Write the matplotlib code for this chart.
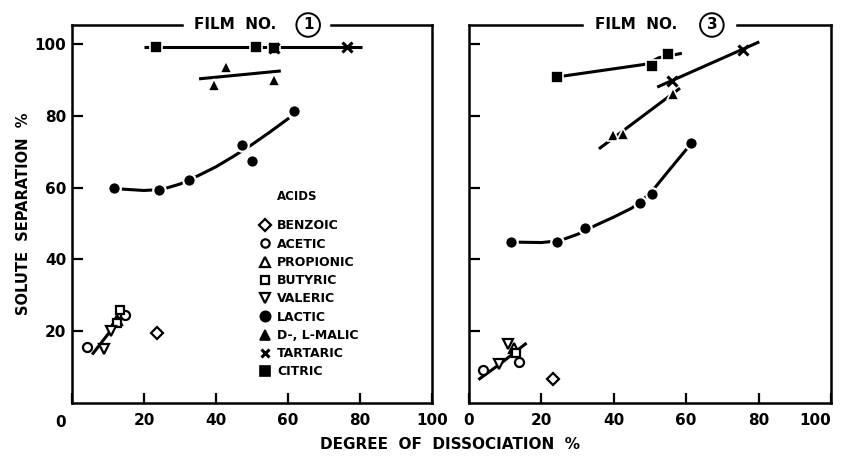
import matplotlib
matplotlib.use("Agg")
import matplotlib.pyplot as plt
from matplotlib.lines import Line2D

plt.rcParams['font.family'] = ['DejaVu Sans']
plt.rcParams['font.weight'] = 'bold'

# ---------------- data: film no. 1 ----------------
f1_benzoic_x = [23.7]
f1_benzoic_y = [19.6]
f1_acetic_x = [4.3, 14.7]
f1_acetic_y = [15.7, 24.4]
f1_propionic_x = [12.6]
f1_propionic_y = [23.1]
f1_butyric_x = [12.6, 13.3]
f1_butyric_y = [22.4, 25.9]
f1_valeric_x = [8.9, 10.7]
f1_valeric_y = [15.0, 20.1]
f1_lactic_x = [11.7, 24.2, 32.5, 47.3, 49.9, 61.7]
f1_lactic_y = [59.9, 59.4, 62.2, 71.8, 67.3, 81.4]
f1_malic_x = [39.4, 42.7, 56.1]
f1_malic_y = [88.6, 93.7, 90.0]
f1_tartaric_x = [56.1, 76.5]
f1_tartaric_y = [99.0, 99.3]
f1_citric_x = [23.2, 51.0, 56.1]
f1_citric_y = [99.3, 99.3, 99.0]

# fitted curves, film no. 1
f1_small_fit_x = [5.6, 14.5]
f1_small_fit_y = [13.5, 25.0]
f1_lactic_fit_x = [13.7, 20, 25, 30, 35, 40, 45, 50, 55, 60.3]
f1_lactic_fit_y = [59.6, 59.2, 59.5, 61.0, 63.3, 65.8, 68.8, 72.0, 75.5, 79.4]
f1_malic_fit_x = [35.3, 58.0]
f1_malic_fit_y = [90.3, 92.5]
f1_top_fit_x = [20.0, 80.6]
f1_top_fit_y = [99.3, 99.3]

# ---------------- data: film no. 3 ----------------
f3_benzoic_x = [23.3]
f3_benzoic_y = [6.7]
f3_acetic_x = [4.0, 13.9]
f3_acetic_y = [9.3, 11.5]
f3_propionic_x = [12.3]
f3_propionic_y = [15.2]
f3_butyric_x = [13.0]
f3_butyric_y = [13.9]
f3_valeric_x = [8.4, 10.9]
f3_valeric_y = [10.8, 16.4]
f3_lactic_x = [11.6, 24.2, 32.0, 47.2, 50.5, 61.3]
f3_lactic_y = [44.8, 44.8, 48.8, 55.6, 58.2, 72.4]
f3_malic_x = [39.9, 42.5, 56.3]
f3_malic_y = [74.7, 75.0, 86.0]
f3_tartaric_x = [56.0, 75.8]
f3_tartaric_y = [89.8, 98.3]
f3_citric_x = [24.2, 50.5, 55.1]
f3_citric_y = [90.9, 93.9, 97.2]

# fitted curves, film no. 3
f3_small_fit_x = [2.6, 9.0, 15.9]
f3_small_fit_y = [6.5, 11.2, 16.7]
f3_lactic_fit_x = [13.5, 20, 25, 30, 35, 40, 45, 50, 55, 60.5]
f3_lactic_fit_y = [44.8, 44.7, 45.2, 47.0, 49.5, 51.8, 54.3, 58.3, 64.5, 71.2]
f3_malic_fit_x = [35.9, 58.3]
f3_malic_fit_y = [70.8, 87.7]
f3_tartaric_fit_x = [52.0, 80.2]
f3_tartaric_fit_y = [88.0, 100.6]
f3_citric_fit_x = [25.5, 49.0, 52.5, 58.8]
f3_citric_fit_y = [91.0, 94.4, 96.2, 97.4]

acid_names = ['BENZOIC', 'ACETIC', 'PROPIONIC', 'BUTYRIC', 'VALERIC',
              'LACTIC', 'D-, L-MALIC', 'TARTARIC', 'CITRIC']
x_ticks = [0, 20, 40, 60, 80, 100]
y_ticks = [20, 40, 60, 80, 100]

# ---------------- styles ----------------
K = 'black'
STYLE = {
    'benzoic':   dict(marker='D', ms=6.0, mfc='white', mec=K, mew=1.6),
    'acetic':    dict(marker='o', ms=6.5, mfc='white', mec=K, mew=1.6),
    'propionic': dict(marker='^', ms=6.5, mfc='white', mec=K, mew=1.6),
    'butyric':   dict(marker='s', ms=6.0, mfc='white', mec=K, mew=1.6),
    'valeric':   dict(marker='v', ms=6.5, mfc='white', mec=K, mew=1.6),
    'lactic':    dict(marker='o', ms=9.0, mfc=K, mec='white', mew=1.6),
    'malic':     dict(marker='^', ms=9.0, mfc=K, mec='white', mew=1.2),
    'tartaric':  dict(marker='x', ms=7.5, mfc=K, mec=K, mew=2.2),
    'citric':    dict(marker='s', ms=8.0, mfc=K, mec='white', mew=1.2),
}
# marker sizes used in the key
LEGEND_MS = {'benzoic': 6.0, 'acetic': 6.0, 'propionic': 6.5, 'butyric': 6.0,
             'valeric': 6.5, 'lactic': 7.0, 'malic': 7.0, 'tartaric': 6.0,
             'citric': 7.5}
FIT = dict(color=K, lw=2.2, solid_capstyle='butt', zorder=2)

fig = plt.figure(figsize=(8.42, 4.62), dpi=100)
ax1 = fig.add_axes([0.0855, 0.1277, 0.4276, 0.8182])
ax3 = fig.add_axes([0.5570, 0.1277, 0.4299, 0.8182])


def draw(ax, groups, fits):
    for fx, fy in fits:
        ax.plot(fx, fy, **FIT)
    for key, (xs, ys) in groups.items():
        ax.plot(xs, ys, linestyle='none', zorder=3, **STYLE[key])


draw(ax1,
     {'benzoic': (f1_benzoic_x, f1_benzoic_y), 'acetic': (f1_acetic_x, f1_acetic_y),
      'propionic': (f1_propionic_x, f1_propionic_y), 'butyric': (f1_butyric_x, f1_butyric_y),
      'valeric': (f1_valeric_x, f1_valeric_y), 'lactic': (f1_lactic_x, f1_lactic_y),
      'malic': (f1_malic_x, f1_malic_y), 'citric': (f1_citric_x, f1_citric_y),
      'tartaric': (f1_tartaric_x, f1_tartaric_y)},
     [(f1_small_fit_x, f1_small_fit_y), (f1_lactic_fit_x, f1_lactic_fit_y),
      (f1_malic_fit_x, f1_malic_fit_y), (f1_top_fit_x, f1_top_fit_y)])

draw(ax3,
     {'benzoic': (f3_benzoic_x, f3_benzoic_y), 'acetic': (f3_acetic_x, f3_acetic_y),
      'propionic': (f3_propionic_x, f3_propionic_y), 'butyric': (f3_butyric_x, f3_butyric_y),
      'valeric': (f3_valeric_x, f3_valeric_y), 'lactic': (f3_lactic_x, f3_lactic_y),
      'malic': (f3_malic_x, f3_malic_y), 'citric': (f3_citric_x, f3_citric_y),
      'tartaric': (f3_tartaric_x, f3_tartaric_y)},
     [(f3_small_fit_x, f3_small_fit_y), (f3_lactic_fit_x, f3_lactic_fit_y),
      (f3_malic_fit_x, f3_malic_fit_y), (f3_tartaric_fit_x, f3_tartaric_fit_y),
      (f3_citric_fit_x, f3_citric_fit_y)])

for ax, gap, title_x, circ_x, num in [(ax1, (0.306, 0.719), 0.454, 0.656, '1'),
                                      (ax3, (0.312, 0.740), 0.463, 0.671, '3')]:
    ax.set_xlim(0, 100)
    ax.set_ylim(0, 105.3)
    ax.set_xticks(x_ticks)
    ax.set_yticks(y_ticks)
    for side in ('left', 'right', 'bottom'):
        ax.spines[side].set_linewidth(1.8)
    ax.spines['top'].set_visible(False)
    # top frame line, broken around the panel title
    ax.plot([0, gap[0]], [1, 1], transform=ax.transAxes, color=K, lw=1.8,
            clip_on=False, solid_capstyle='projecting')
    ax.plot([gap[1], 1], [1, 1], transform=ax.transAxes, color=K, lw=1.8,
            clip_on=False, solid_capstyle='projecting')
    ax.text(title_x, 1.0, 'FILM  NO.', transform=ax.transAxes, ha='center',
            va='center', fontsize=11, fontweight='bold')
    ax.text(circ_x, 1.0, num, transform=ax.transAxes, ha='center', va='center',
            fontsize=11, fontweight='bold',
            bbox=dict(boxstyle='circle,pad=0.28', fc='white', ec=K, lw=1.4))
    ax.tick_params(axis='x', direction='in', length=7, width=1.6, pad=7,
                   labelsize=11)
    ax.tick_params(axis='y', direction='in', length=8, width=1.6, pad=4,
                   labelsize=11)

ax1.set_xticklabels([''] + [str(t) for t in x_ticks[1:]])
ax1.text(-3.2, -0.032, '0', transform=ax1.get_xaxis_transform(), ha='center',
         va='top', fontsize=11, fontweight='bold')
ax1.set_yticklabels([str(t) for t in y_ticks])
ax3.set_xticklabels([str(t) for t in x_ticks])
ax3.get_xticklabels()[-1].set_horizontalalignment('right')
ax3.set_yticklabels([])

ax1.set_ylabel('SOLUTE  SEPARATION  %', fontsize=10.5, fontweight='bold',
               labelpad=3)
fig.text(0.5345, 0.037, 'DEGREE  OF  DISSOCIATION  %', ha='center', va='center',
         fontsize=11, fontweight='bold')

# legend of acids
keys = ['benzoic', 'acetic', 'propionic', 'butyric', 'valeric',
        'lactic', 'malic', 'tartaric', 'citric']
handles = []
for k in keys:
    st = dict(STYLE[k])
    if st['mec'] == 'white':
        st['mec'] = K
    st['ms'] = LEGEND_MS[k]
    handles.append(Line2D([], [], linestyle='none', **st))
leg = ax1.legend(handles, acid_names, loc='upper left',
                 bbox_to_anchor=(0.505, 0.502), frameon=False, borderpad=0,
                 handlelength=0.8, handletextpad=0.55, labelspacing=0.42,
                 prop=dict(size=9, weight='bold'))
ax1.text(0.568, 0.545, 'ACIDS', transform=ax1.transAxes, ha='left', va='center',
         fontsize=8.5, fontweight='bold')

fig.savefig('out.png', dpi=100)
